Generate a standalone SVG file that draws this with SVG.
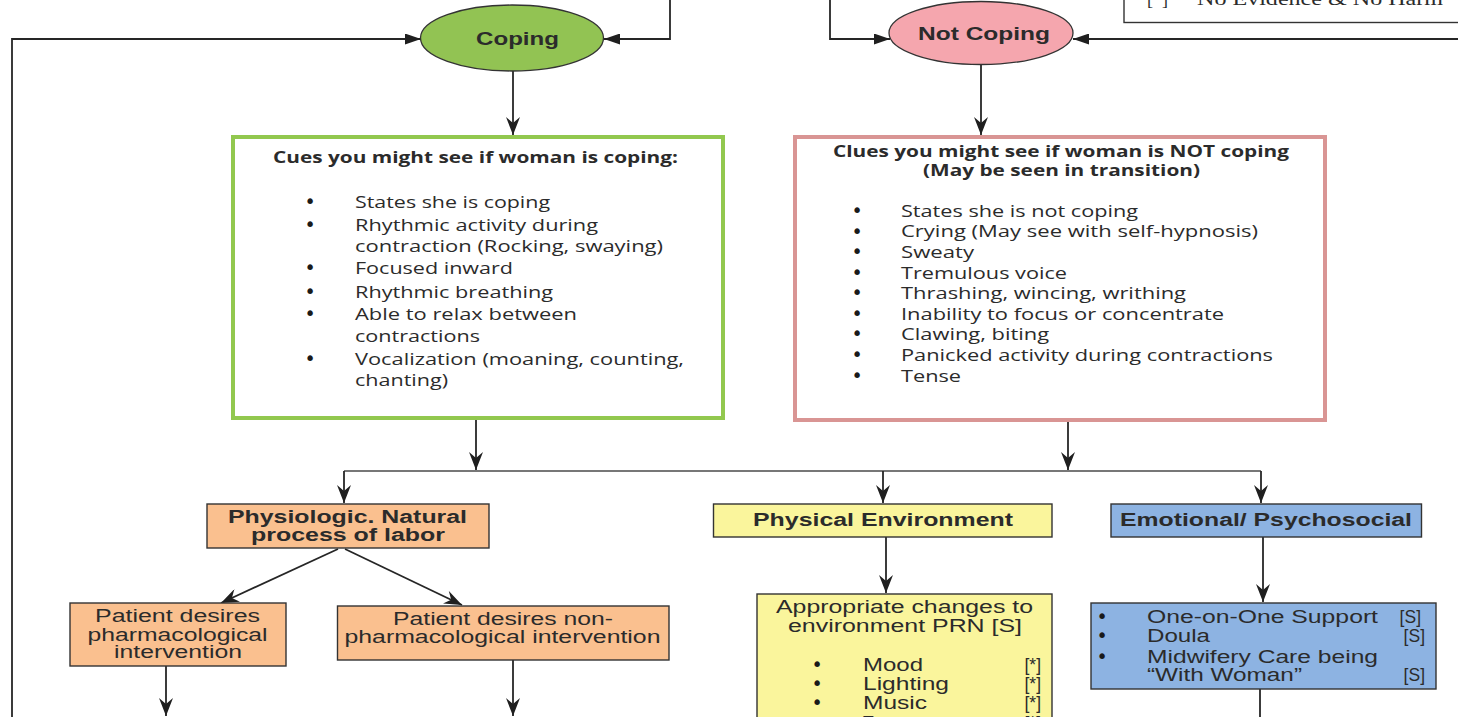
<svg xmlns="http://www.w3.org/2000/svg" width="1458" height="717" viewBox="0 0 1458 717">
  <style>
    .conn { fill: none; stroke: #262626; stroke-width: 1.8; }
    .bus { fill: none; stroke: #4a4a4a; stroke-width: 1.6; }
    .box { stroke: #333; stroke-width: 1.4; }
    .cal { font-family: "Open Sans", "Liberation Sans", sans-serif; font-size: 16px; fill: #2b2b2b; }
    .calb { font-family: "Open Sans", "Liberation Sans", sans-serif; font-size: 15.5px; font-weight: bold; fill: #2b2b2b; }
    .ar { font-family: "Liberation Sans", Arial, sans-serif; font-size: 17.5px; fill: #2b2b2b; }
    .arb { font-family: "Liberation Sans", Arial, sans-serif; font-size: 17.5px; font-weight: bold; fill: #2b2b2b; }
    .ser { font-family: "Liberation Serif", "Times New Roman", serif; font-size: 18px; fill: #2b2b2b; }
    .bul { font-family: "DejaVu Sans", sans-serif; font-size: 19px; fill: #1a1a1a; text-anchor: middle; }
  </style>
  <defs>
    <marker id="tri" markerUnits="userSpaceOnUse" markerWidth="16" markerHeight="11" refX="16" refY="5.5" orient="auto">
      <path d="M0,0 L16,5.5 L0,11 z" fill="#1f1f1f"/>
    </marker>
    <marker id="stealth" markerUnits="userSpaceOnUse" markerWidth="18" markerHeight="14" refX="18" refY="7" orient="auto">
      <path d="M0,0 L18,7 L0,14 L6,7 z" fill="#1f1f1f"/>
    </marker>
  </defs>

  <rect width="1458" height="717" fill="#ffffff"/>

  <!-- legend box, mostly above the visible area -->
  <g id="legend">
    <rect x="1124" y="-30" width="400" height="52.5" fill="#ffffff" stroke="#333" stroke-width="1.4"/>
    <text class="ser" x="1147" y="5">[*]</text>
    <text class="ser" x="1197" y="5" textLength="246" lengthAdjust="spacingAndGlyphs">No Evidence &amp; No Harm</text>
  </g>

  <g id="connectors">
    <path class="conn" d="M12,717 L12,39 L421,39" marker-end="url(#tri)"/>
    <path class="conn" d="M670,0 L670,39 L604,39" marker-end="url(#tri)"/>
    <path class="conn" d="M830,0 L830,39 L890,39" marker-end="url(#tri)"/>
    <path class="conn" d="M1458,39 L1073,39" marker-end="url(#tri)"/>
    <path class="conn" d="M513,71 L513,135" marker-end="url(#stealth)"/>
    <path class="conn" d="M981,65 L981,135" marker-end="url(#stealth)"/>
    <path class="conn" d="M476,419 L476,470" marker-end="url(#stealth)"/>
    <path class="conn" d="M1068,421 L1068,470" marker-end="url(#stealth)"/>
    <path class="bus" d="M344,471 L1261,471"/>
    <path class="conn" d="M344,471 L344,503" marker-end="url(#stealth)"/>
    <path class="conn" d="M883,471 L883,503" marker-end="url(#stealth)"/>
    <path class="conn" d="M1261,471 L1261,503" marker-end="url(#stealth)"/>
    <path class="conn" d="M886,537 L886,593" marker-end="url(#stealth)"/>
    <path class="conn" d="M1263,537 L1263,602" marker-end="url(#stealth)"/>
    <path class="conn" d="M338,549 L221,603" marker-end="url(#stealth)"/>
    <path class="conn" d="M345,549 L462,605" marker-end="url(#stealth)"/>
    <path class="conn" d="M166,666 L166,716" marker-end="url(#stealth)"/>
    <path class="conn" d="M513,660 L513,716" marker-end="url(#stealth)"/>
    <path class="conn" d="M1260,689 L1260,717"/>
  </g>

  <g id="coping">
    <ellipse cx="512" cy="38" rx="91.5" ry="33" fill="#92c353" stroke="#333" stroke-width="1.3"/>
    <text class="arb" x="476" y="45" font-size="17" textLength="83" lengthAdjust="spacingAndGlyphs">Coping</text>
  </g>

  <g id="not-coping">
    <ellipse cx="981" cy="33" rx="92" ry="31.5" fill="#f5a6ae" stroke="#333" stroke-width="1.3"/>
    <text class="arb" x="918" y="40" font-size="17.5" textLength="132" lengthAdjust="spacingAndGlyphs">Not Coping</text>
  </g>

  <g id="coping-cues">
    <rect x="233" y="137" width="490" height="281" fill="#ffffff" stroke="#92c84f" stroke-width="4"/>
    <text class="calb" x="273" y="163" textLength="405" lengthAdjust="spacingAndGlyphs">Cues you might see if woman is coping:</text>
    <text class="bul" x="310" y="208">•</text>
    <text class="bul" x="310" y="231">•</text>
    <text class="bul" x="310" y="274">•</text>
    <text class="bul" x="310" y="298">•</text>
    <text class="bul" x="310" y="320">•</text>
    <text class="bul" x="310" y="365">•</text>
    <text class="cal" x="355" y="208" textLength="195" lengthAdjust="spacingAndGlyphs">States she is coping</text>
    <text class="cal" x="355" y="231" textLength="243" lengthAdjust="spacingAndGlyphs">Rhythmic activity during</text>
    <text class="cal" x="355" y="252" textLength="308" lengthAdjust="spacingAndGlyphs">contraction (Rocking, swaying)</text>
    <text class="cal" x="355" y="274" textLength="158" lengthAdjust="spacingAndGlyphs">Focused inward</text>
    <text class="cal" x="355" y="298" textLength="198" lengthAdjust="spacingAndGlyphs">Rhythmic breathing</text>
    <text class="cal" x="355" y="320" textLength="222" lengthAdjust="spacingAndGlyphs">Able to relax between</text>
    <text class="cal" x="355" y="342" textLength="125" lengthAdjust="spacingAndGlyphs">contractions</text>
    <text class="cal" x="355" y="365" textLength="329" lengthAdjust="spacingAndGlyphs">Vocalization (moaning, counting,</text>
    <text class="cal" x="355" y="386" textLength="93" lengthAdjust="spacingAndGlyphs">chanting)</text>
  </g>

  <g id="not-coping-clues">
    <rect x="795" y="137" width="530" height="283" fill="#ffffff" stroke="#d99594" stroke-width="4"/>
    <text class="calb" x="833" y="157" textLength="456" lengthAdjust="spacingAndGlyphs">Clues you might see if woman is NOT coping</text>
    <text class="calb" x="923" y="176" textLength="277" lengthAdjust="spacingAndGlyphs">(May be seen in transition)</text>
    <text class="bul" x="857" y="217">•</text>
    <text class="bul" x="857" y="238">•</text>
    <text class="bul" x="857" y="258">•</text>
    <text class="bul" x="857" y="279">•</text>
    <text class="bul" x="857" y="299">•</text>
    <text class="bul" x="857" y="320">•</text>
    <text class="bul" x="857" y="340">•</text>
    <text class="bul" x="857" y="361">•</text>
    <text class="bul" x="857" y="382">•</text>
    <text class="cal" x="901" y="217" textLength="237" lengthAdjust="spacingAndGlyphs">States she is not coping</text>
    <text class="cal" x="901" y="237" textLength="357" lengthAdjust="spacingAndGlyphs">Crying (May see with self-hypnosis)</text>
    <text class="cal" x="901" y="258" textLength="73" lengthAdjust="spacingAndGlyphs">Sweaty</text>
    <text class="cal" x="901" y="279" textLength="166" lengthAdjust="spacingAndGlyphs">Tremulous voice</text>
    <text class="cal" x="901" y="299" textLength="285" lengthAdjust="spacingAndGlyphs">Thrashing, wincing, writhing</text>
    <text class="cal" x="901" y="320" textLength="323" lengthAdjust="spacingAndGlyphs">Inability to focus or concentrate</text>
    <text class="cal" x="901" y="340" textLength="148" lengthAdjust="spacingAndGlyphs">Clawing, biting</text>
    <text class="cal" x="901" y="361" textLength="372" lengthAdjust="spacingAndGlyphs">Panicked activity during contractions</text>
    <text class="cal" x="901" y="382" textLength="60" lengthAdjust="spacingAndGlyphs">Tense</text>
  </g>

  <g id="physiologic">
    <rect class="box" x="207" y="504" width="282" height="44" fill="#fac08f"/>
    <text class="arb" x="228" y="523" textLength="239" lengthAdjust="spacingAndGlyphs">Physiologic. Natural</text>
    <text class="arb" x="251" y="541" textLength="194" lengthAdjust="spacingAndGlyphs">process of labor</text>
  </g>

  <g id="pharmacological">
    <rect class="box" x="70" y="603" width="216" height="63" fill="#fac08f"/>
    <text class="ar" x="95" y="622" textLength="165" lengthAdjust="spacingAndGlyphs">Patient desires</text>
    <text class="ar" x="87.5" y="641" textLength="180" lengthAdjust="spacingAndGlyphs">pharmacological</text>
    <text class="ar" x="114" y="658" textLength="128" lengthAdjust="spacingAndGlyphs">intervention</text>
  </g>

  <g id="non-pharmacological">
    <rect class="box" x="337.5" y="606" width="331.5" height="54" fill="#fac08f"/>
    <text class="ar" x="393" y="625" textLength="220" lengthAdjust="spacingAndGlyphs">Patient desires non-</text>
    <text class="ar" x="344.5" y="643" textLength="316" lengthAdjust="spacingAndGlyphs">pharmacological intervention</text>
  </g>

  <g id="physical-environment">
    <rect class="box" x="713.5" y="504" width="338.5" height="33" fill="#faf59c"/>
    <text class="arb" x="753" y="526" textLength="260" lengthAdjust="spacingAndGlyphs">Physical Environment</text>
  </g>

  <g id="emotional">
    <rect class="box" x="1111" y="504" width="310.5" height="33" fill="#8db3e2"/>
    <text class="arb" x="1120" y="526" textLength="292" lengthAdjust="spacingAndGlyphs">Emotional/ Psychosocial</text>
  </g>

  <g id="environment-changes">
    <rect class="box" x="757" y="594" width="295" height="150" fill="#faf59c"/>
    <text class="ar" x="776" y="613" font-size="17" textLength="257" lengthAdjust="spacingAndGlyphs">Appropriate changes to</text>
    <text class="ar" x="788" y="632" font-size="17" textLength="234" lengthAdjust="spacingAndGlyphs">environment PRN [S]</text>
    <text class="bul" x="817" y="671">•</text>
    <text class="bul" x="817" y="690">•</text>
    <text class="bul" x="817" y="709">•</text>
    <text class="ar" x="863" y="671" textLength="60" lengthAdjust="spacingAndGlyphs">Mood</text>
    <text class="ar" x="863" y="690" textLength="86" lengthAdjust="spacingAndGlyphs">Lighting</text>
    <text class="ar" x="863" y="709" textLength="64" lengthAdjust="spacingAndGlyphs">Music</text>
    <text class="ar" x="863" y="729">T</text>
    <text class="ar" x="1041" y="671" text-anchor="end" font-size="18.5">[*]</text>
    <text class="ar" x="1041" y="690" text-anchor="end" font-size="18.5">[*]</text>
    <text class="ar" x="1041" y="709" text-anchor="end" font-size="18.5">[*]</text>
    <text class="ar" x="1041" y="729" text-anchor="end" font-size="18.5">[*]</text>
  </g>

  <g id="support">
    <rect class="box" x="1091" y="603" width="345" height="86" fill="#8db3e2"/>
    <text class="bul" x="1102" y="623">•</text>
    <text class="bul" x="1102" y="642">•</text>
    <text class="bul" x="1102" y="663">•</text>
    <text class="ar" x="1147" y="623" font-size="17" textLength="231" lengthAdjust="spacingAndGlyphs">One-on-One Support</text>
    <text class="ar" x="1147" y="642" font-size="17" textLength="63" lengthAdjust="spacingAndGlyphs">Doula</text>
    <text class="ar" x="1147" y="663" font-size="17" textLength="231" lengthAdjust="spacingAndGlyphs">Midwifery Care being</text>
    <text class="ar" x="1147" y="681" font-size="17" textLength="155" lengthAdjust="spacingAndGlyphs">“With Woman”</text>
    <text class="ar" x="1421" y="623" font-size="17.5" text-anchor="end">[S]</text>
    <text class="ar" x="1425" y="642" font-size="17.5" text-anchor="end">[S]</text>
    <text class="ar" x="1425" y="681" font-size="17.5" text-anchor="end">[S]</text>
  </g>
</svg>
